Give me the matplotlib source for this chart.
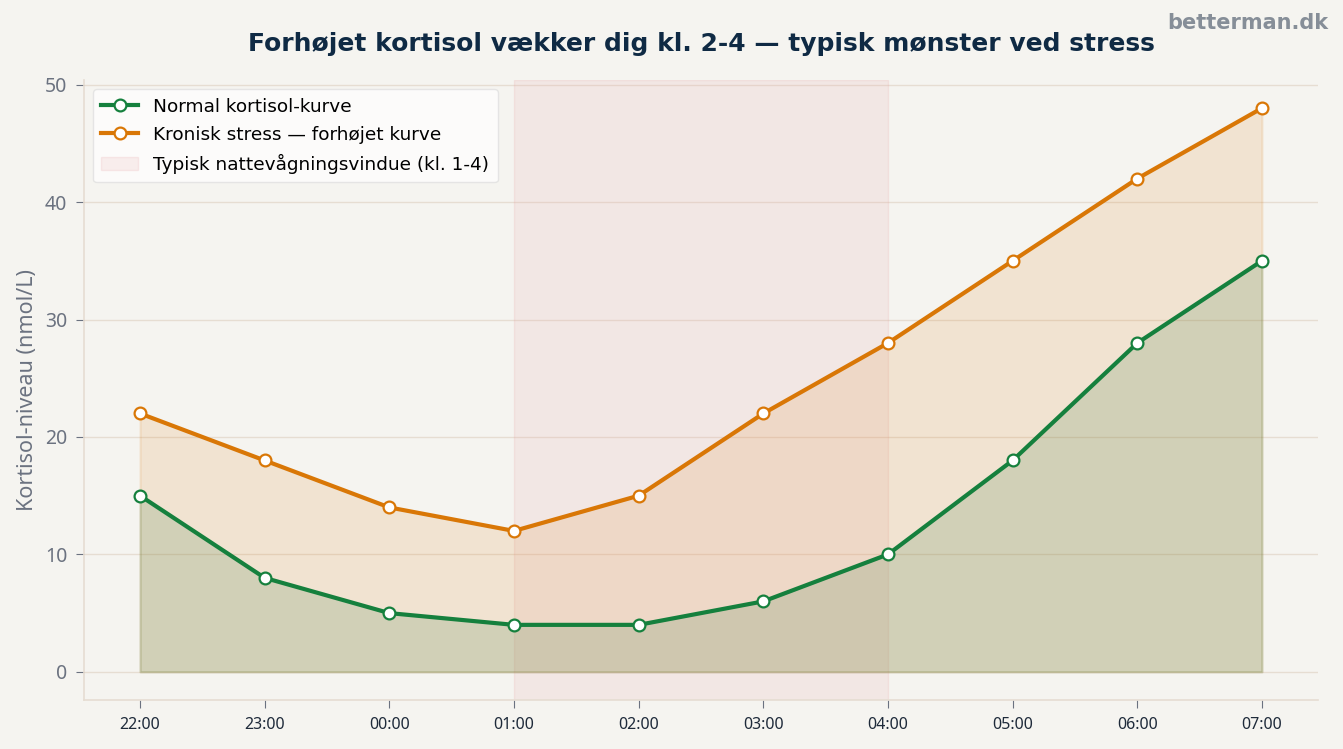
import matplotlib
matplotlib.use("Agg")
import matplotlib.pyplot as plt

hours = ["22:00", "23:00", "00:00", "01:00", "02:00", "03:00", "04:00", "05:00", "06:00", "07:00"]
normal = [15, 8, 5, 4, 4, 6, 10, 18, 28, 35]
stress = [22, 18, 14, 12, 15, 22, 28, 35, 42, 48]
window_start, window_end = 3, 6

BG = "#f5f4f0"
GREEN = "#15803d"
ORANGE = "#d97706"

fig = plt.figure(figsize=(13.43, 7.49), dpi=100, facecolor=BG)
ax = fig.add_axes([0.0625, 0.0654, 0.9189, 0.8278], facecolor=BG)
x = list(range(len(hours)))

ax.fill_between(x, 0, stress, color=ORANGE, alpha=0.13, lw=1.5, zorder=2)
ax.fill_between(x, 0, normal, color="#548652", alpha=0.2, lw=1.5, zorder=3)
l1, = ax.plot(x, normal, color=GREEN, lw=3, marker="o", ms=8.5, mfc="white", mec=GREEN,
              mew=1.6, label="Normal kortisol-kurve", zorder=5)
l2, = ax.plot(x, stress, color=ORANGE, lw=3, marker="o", ms=8.5, mfc="white", mec=ORANGE,
              mew=1.6, label="Kronisk stress — forhøjet kurve", zorder=5)
sp = ax.axvspan(window_start, window_end, facecolor="#e8b0b0", edgecolor="#e8a0a0",
                alpha=0.18, lw=1, label="Typisk nattevågningsvindue (kl. 1-4)", zorder=1)

ax.set_xticks(x)
ax.set_xticklabels(hours, fontfamily="Noto Sans", fontsize=11.5, color="#1e2a3a")
ax.set_yticks([0, 10, 20, 30, 40, 50])
for t in ax.get_yticklabels():
    t.set_fontfamily("Noto Sans")
    t.set_fontsize(14)
    t.set_color("#6b7280")
ax.tick_params(axis="both", colors="#6b7280", length=6, pad=6)
ax.tick_params(axis="x", labelcolor="#1e2a3a")
ax.tick_params(axis="y", labelcolor="#6b7280")
ax.set_ylabel("Kortisol-niveau (nmol/L)", fontfamily="Noto Sans", fontsize=15.5,
              color="#6b7280", labelpad=5)

ax.grid(True, axis="y", color="#e6ddd2", lw=1)
ax.set_axisbelow(True)
for s in ["top", "right"]:
    ax.spines[s].set_visible(False)
for s in ["left", "bottom"]:
    ax.spines[s].set_color("#e6ddd2")
    ax.spines[s].set_linewidth(1.2)

ax.set_title("Forhøjet kortisol vækker dig kl. 2-4 — typisk mønster ved stress",
             fontsize=18, fontweight="bold", color="#0f2a44", pad=21)
fig.text(0.989, 0.969, "betterman.dk", ha="right", va="center", fontsize=15,
         fontweight="bold", color="#868e98")

leg = ax.legend(handles=[l1, l2, sp], loc="upper left", fontsize=13.3, frameon=True,
                facecolor="white", edgecolor="#dddddd", framealpha=0.7, borderpad=0.45,
                handlelength=2.0, labelspacing=0.55)

fig.savefig("out.png", dpi=100, facecolor=BG)
